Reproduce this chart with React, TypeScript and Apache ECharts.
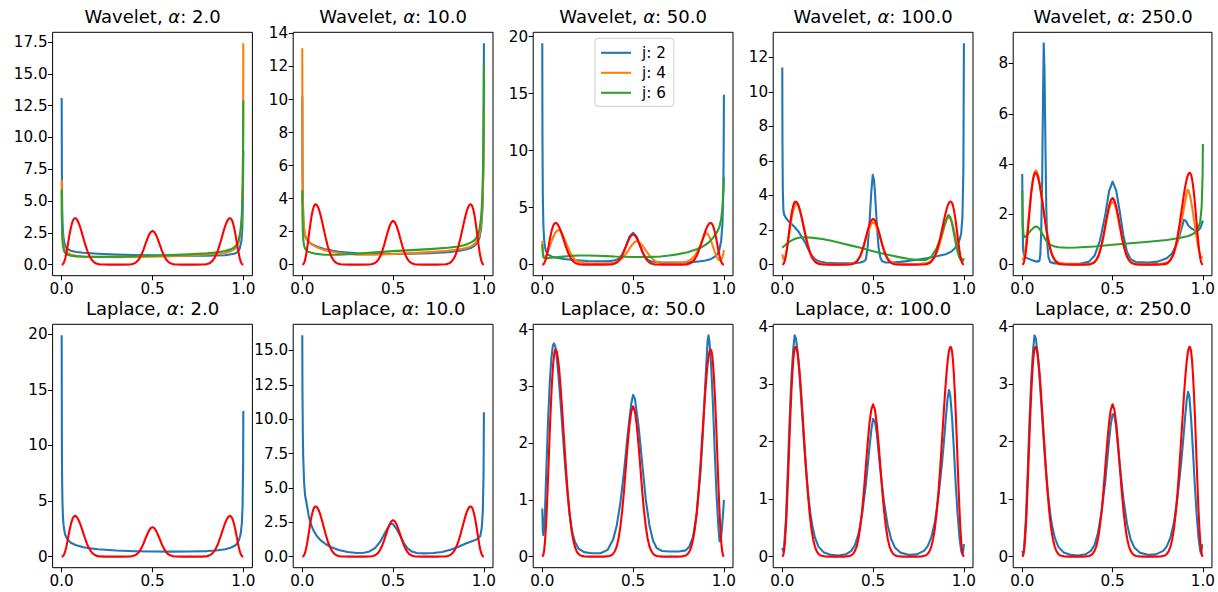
import React, { useEffect, useRef } from "react";
import * as echarts from "echarts";

type P = [number, number][];

// ---------- data ----------
const X_TICKS = [0, 0.5, 1.0];

const RED: P = [[0,0],[0.005,0.02],[0.01,0.1],[0.015,0.27],[0.02,0.52],[0.025,0.85],[0.03,1.24],[0.035,1.66],[0.04,2.1],[0.045,2.5],[0.05,2.86],[0.055,3.16],[0.06,3.4],[0.065,3.56],[0.07,3.64],[0.075,3.65],[0.08,3.61],[0.085,3.52],[0.09,3.39],[0.095,3.22],[0.1,3.02],[0.105,2.8],[0.11,2.56],[0.115,2.31],[0.12,2.06],[0.13,1.57],[0.14,1.13],[0.15,0.77],[0.16,0.49],[0.17,0.3],[0.18,0.17],[0.19,0.09],[0.2,0.045],[0.21,0.02],[0.23,0.005],[0.26,0],[0.34,0],[0.37,0.01],[0.38,0.023],[0.39,0.05],[0.4,0.1],[0.41,0.18],[0.42,0.32],[0.43,0.53],[0.44,0.81],[0.45,1.16],[0.46,1.57],[0.47,1.97],[0.48,2.32],[0.49,2.56],[0.5,2.65],[0.51,2.56],[0.52,2.32],[0.53,1.97],[0.54,1.57],[0.55,1.16],[0.56,0.81],[0.57,0.53],[0.58,0.32],[0.59,0.18],[0.6,0.1],[0.61,0.05],[0.62,0.023],[0.63,0.01],[0.66,0],[0.74,0],[0.77,0.005],[0.79,0.02],[0.8,0.045],[0.81,0.09],[0.82,0.17],[0.83,0.3],[0.84,0.49],[0.85,0.77],[0.86,1.13],[0.87,1.57],[0.88,2.06],[0.885,2.31],[0.89,2.56],[0.895,2.8],[0.9,3.02],[0.905,3.22],[0.91,3.39],[0.915,3.52],[0.92,3.61],[0.925,3.65],[0.93,3.64],[0.935,3.56],[0.94,3.4],[0.945,3.16],[0.95,2.86],[0.955,2.5],[0.96,2.1],[0.965,1.66],[0.97,1.24],[0.975,0.85],[0.98,0.52],[0.985,0.27],[0.99,0.1],[0.995,0.02],[1,0]];

// Wavelet, alpha 2.0
const W2_TICKS = [0, 2.5, 5, 7.5, 10, 12.5, 15, 17.5];
const W2_J2: P = [[0,13.1],[0.001,7.5],[0.003,4.2],[0.006,2.8],[0.01,2.1],[0.015,1.7],[0.02,1.45],[0.03,1.25],[0.05,1.1],[0.08,1.0],[0.12,0.93],[0.2,0.86],[0.3,0.8],[0.4,0.76],[0.5,0.73],[0.6,0.71],[0.7,0.7],[0.8,0.7],[0.9,0.74],[0.95,0.85],[0.97,1.0],[0.98,1.25],[0.99,1.9],[0.995,3.0],[0.998,5.5],[1,9]];
const W2_J4: P = [[0,6.7],[0.001,4.0],[0.003,2.6],[0.006,1.9],[0.01,1.5],[0.015,1.25],[0.02,1.1],[0.03,0.95],[0.05,0.8],[0.08,0.7],[0.12,0.64],[0.2,0.6],[0.3,0.58],[0.4,0.6],[0.5,0.63],[0.6,0.67],[0.7,0.72],[0.8,0.8],[0.86,0.86],[0.9,0.92],[0.93,1.05],[0.95,1.2],[0.965,1.45],[0.975,1.8],[0.985,2.5],[0.992,3.7],[0.997,6.5],[0.999,10.5],[1,17.4]];
const W2_J6: P = [[0,5.9],[0.001,3.6],[0.003,2.3],[0.006,1.6],[0.01,1.25],[0.015,1.0],[0.02,0.9],[0.03,0.8],[0.05,0.7],[0.08,0.65],[0.12,0.62],[0.2,0.61],[0.3,0.63],[0.4,0.66],[0.5,0.7],[0.6,0.75],[0.7,0.81],[0.8,0.9],[0.86,0.98],[0.9,1.07],[0.93,1.2],[0.95,1.35],[0.965,1.6],[0.975,1.95],[0.985,2.7],[0.992,3.9],[0.997,6.5],[0.999,9.5],[1,12.9]];

// Wavelet, alpha 10.0
const W10_TICKS = [0, 2, 4, 6, 8, 10, 12, 14];
const W10_J2: P = [[0,10.2],[0.001,6],[0.003,3.8],[0.006,2.7],[0.01,2.1],[0.015,1.8],[0.02,1.6],[0.03,1.45],[0.05,1.25],[0.08,1.1],[0.12,0.95],[0.2,0.78],[0.3,0.68],[0.4,0.65],[0.5,0.64],[0.6,0.66],[0.7,0.7],[0.8,0.76],[0.86,0.83],[0.9,0.92],[0.93,1.02],[0.95,1.15],[0.965,1.35],[0.975,1.6],[0.985,2.2],[0.992,3.4],[0.997,6],[0.999,9.5],[1,13.4]];
const W10_J4: P = [[0,13.1],[0.001,7],[0.003,4.2],[0.006,2.9],[0.01,2.2],[0.015,1.85],[0.02,1.65],[0.03,1.45],[0.05,1.25],[0.08,1.05],[0.12,0.88],[0.2,0.7],[0.3,0.6],[0.4,0.6],[0.5,0.64],[0.6,0.7],[0.7,0.76],[0.8,0.84],[0.86,0.92],[0.9,1.0],[0.93,1.12],[0.95,1.28],[0.965,1.5],[0.975,1.8],[0.985,2.5],[0.992,3.6],[0.997,5.6],[1,9.6]];
const W10_J6: P = [[0,4.5],[0.001,3.0],[0.003,2.0],[0.006,1.45],[0.01,1.15],[0.015,0.98],[0.02,0.9],[0.03,0.8],[0.05,0.72],[0.08,0.65],[0.12,0.6],[0.2,0.6],[0.3,0.66],[0.4,0.74],[0.5,0.82],[0.6,0.88],[0.7,0.94],[0.8,1.02],[0.86,1.1],[0.9,1.2],[0.93,1.35],[0.95,1.5],[0.965,1.75],[0.975,2.1],[0.985,2.9],[0.992,4.2],[0.997,7],[0.999,9.8],[1,12.1]];

// Wavelet, alpha 50.0
const W50_TICKS = [0, 5, 10, 15, 20];
const W50_J2: P = [[0,19.4],[0.001,11],[0.003,6],[0.006,3.5],[0.01,2.2],[0.015,1.55],[0.02,1.2],[0.03,0.9],[0.05,0.72],[0.08,0.6],[0.12,0.5],[0.16,0.43],[0.2,0.37],[0.25,0.32],[0.3,0.3],[0.35,0.3],[0.38,0.33],[0.4,0.38],[0.42,0.5],[0.44,0.88],[0.46,1.6],[0.48,2.45],[0.5,2.8],[0.52,2.45],[0.54,1.6],[0.56,0.85],[0.58,0.42],[0.6,0.28],[0.65,0.2],[0.7,0.18],[0.75,0.18],[0.8,0.2],[0.85,0.26],[0.9,0.36],[0.93,0.5],[0.95,0.7],[0.965,0.95],[0.975,1.3],[0.985,2.1],[0.992,3.6],[0.997,7],[0.999,11],[1,14.9]];
const W50_J4: P = [[0,2.1],[0.003,1.2],[0.006,0.75],[0.01,0.6],[0.02,0.75],[0.03,1.1],[0.04,1.55],[0.05,2.0],[0.06,2.4],[0.07,2.75],[0.08,2.95],[0.09,3.05],[0.1,2.95],[0.11,2.7],[0.12,2.35],[0.13,1.95],[0.14,1.55],[0.15,1.2],[0.16,0.88],[0.18,0.45],[0.2,0.24],[0.23,0.14],[0.27,0.1],[0.33,0.1],[0.38,0.15],[0.41,0.25],[0.44,0.55],[0.47,1.15],[0.49,1.65],[0.51,2.0],[0.52,2.05],[0.53,2.0],[0.55,1.7],[0.57,1.25],[0.59,0.8],[0.61,0.45],[0.63,0.25],[0.66,0.14],[0.7,0.12],[0.75,0.14],[0.79,0.22],[0.82,0.45],[0.84,0.8],[0.86,1.35],[0.87,1.7],[0.88,2.1],[0.89,2.5],[0.9,2.75],[0.91,2.7],[0.92,2.45],[0.93,2.05],[0.94,1.55],[0.95,1.1],[0.96,0.7],[0.97,0.42],[0.98,0.35],[0.99,0.55],[0.996,0.9],[1,1.3]];
const W50_J6: P = [[0,1.8],[0.003,1.0],[0.006,0.7],[0.01,0.58],[0.02,0.55],[0.05,0.6],[0.1,0.68],[0.15,0.76],[0.2,0.8],[0.25,0.8],[0.3,0.78],[0.35,0.75],[0.4,0.71],[0.5,0.67],[0.6,0.68],[0.65,0.72],[0.7,0.8],[0.75,0.92],[0.8,1.08],[0.85,1.35],[0.88,1.55],[0.9,1.75],[0.92,2.0],[0.94,2.35],[0.96,2.8],[0.975,3.3],[0.985,4.0],[0.992,5.0],[0.997,6.4],[1,7.7]];

// Wavelet, alpha 100.0
const W100_TICKS = [0, 2, 4, 6, 8, 10, 12];
const W100_J2: P = [[0,11.4],[0.001,7],[0.003,4.3],[0.006,3.2],[0.01,2.9],[0.02,2.7],[0.035,2.5],[0.05,2.37],[0.07,2.15],[0.09,1.9],[0.11,1.55],[0.125,1.3],[0.14,0.95],[0.16,0.58],[0.18,0.32],[0.2,0.19],[0.24,0.11],[0.3,0.08],[0.36,0.08],[0.4,0.09],[0.43,0.12],[0.45,0.2],[0.46,0.3],[0.47,1.0],[0.48,2.4],[0.49,4.2],[0.498,5.2],[0.505,4.9],[0.51,4.2],[0.52,2.4],[0.53,1.0],[0.54,0.4],[0.55,0.2],[0.57,0.12],[0.6,0.12],[0.65,0.16],[0.7,0.22],[0.75,0.3],[0.8,0.38],[0.85,0.48],[0.9,0.6],[0.93,0.75],[0.95,0.95],[0.965,1.15],[0.975,1.4],[0.985,1.8],[0.992,2.8],[0.997,5.5],[1,12.8]];
const W100_J4: P = [[0,0.6],[0.005,0.35],[0.01,0.3],[0.015,0.4],[0.02,0.6],[0.03,1.2],[0.04,1.95],[0.05,2.6],[0.06,3.1],[0.07,3.45],[0.08,3.55],[0.09,3.4],[0.1,3.05],[0.11,2.6],[0.12,2.1],[0.13,1.62],[0.14,1.18],[0.15,0.82],[0.16,0.54],[0.17,0.34],[0.18,0.21],[0.2,0.08],[0.23,0.03],[0.3,0.01],[0.36,0.02],[0.39,0.07],[0.41,0.2],[0.43,0.5],[0.45,1.1],[0.47,1.85],[0.49,2.35],[0.5,2.45],[0.51,2.38],[0.53,1.9],[0.55,1.15],[0.57,0.55],[0.59,0.22],[0.61,0.08],[0.64,0.03],[0.7,0.02],[0.76,0.04],[0.8,0.1],[0.82,0.22],[0.84,0.45],[0.86,0.95],[0.88,1.7],[0.89,2.1],[0.9,2.45],[0.91,2.68],[0.92,2.72],[0.93,2.6],[0.94,2.25],[0.95,1.8],[0.96,1.3],[0.97,0.85],[0.98,0.45],[0.99,0.25],[1,0.35]];
const W100_J6: P = [[0,0.98],[0.02,1.17],[0.04,1.33],[0.06,1.45],[0.08,1.53],[0.1,1.57],[0.13,1.58],[0.17,1.55],[0.22,1.48],[0.27,1.38],[0.32,1.25],[0.38,1.1],[0.43,0.98],[0.47,0.86],[0.5,0.78],[0.55,0.65],[0.6,0.53],[0.65,0.42],[0.7,0.33],[0.75,0.27],[0.79,0.27],[0.82,0.45],[0.85,0.95],[0.87,1.5],[0.89,2.2],[0.905,2.7],[0.915,2.88],[0.925,2.75],[0.935,2.35],[0.945,1.8],[0.955,1.25],[0.965,0.75],[0.975,0.4],[0.985,0.22],[0.993,0.2],[1,0.35]];

// Wavelet, alpha 250.0
const W250_TICKS = [0, 2, 4, 6, 8];
const W250_J2: P = [[0,3.6],[0.002,1.5],[0.005,0.6],[0.01,0.35],[0.02,0.28],[0.04,0.22],[0.06,0.16],[0.08,0.12],[0.095,0.15],[0.1,0.4],[0.105,1.3],[0.11,3.2],[0.115,6.6],[0.119,8.8],[0.123,7.8],[0.128,5.0],[0.133,2.3],[0.138,0.9],[0.145,0.3],[0.155,0.1],[0.18,0.05],[0.25,0.03],[0.32,0.03],[0.37,0.12],[0.4,0.35],[0.43,0.95],[0.46,2.0],[0.48,2.9],[0.5,3.3],[0.52,2.95],[0.54,2.1],[0.56,1.15],[0.58,0.5],[0.6,0.22],[0.63,0.1],[0.7,0.08],[0.75,0.12],[0.8,0.25],[0.83,0.45],[0.86,0.9],[0.88,1.4],[0.895,1.78],[0.905,1.75],[0.92,1.55],[0.94,1.42],[0.96,1.35],[0.975,1.36],[0.985,1.45],[0.993,1.6],[1,1.75]];
const W250_J4: P = [[0,0.25],[0.005,0.2],[0.01,0.3],[0.02,0.75],[0.03,1.45],[0.04,2.2],[0.05,2.9],[0.06,3.4],[0.07,3.7],[0.075,3.75],[0.08,3.72],[0.09,3.5],[0.1,3.1],[0.11,2.6],[0.12,2.1],[0.13,1.6],[0.14,1.15],[0.15,0.8],[0.16,0.52],[0.17,0.33],[0.18,0.2],[0.2,0.08],[0.23,0.03],[0.3,0.01],[0.37,0.02],[0.4,0.1],[0.42,0.32],[0.44,0.78],[0.46,1.5],[0.48,2.2],[0.49,2.42],[0.5,2.5],[0.51,2.42],[0.52,2.2],[0.54,1.5],[0.56,0.78],[0.58,0.32],[0.6,0.1],[0.63,0.02],[0.7,0.01],[0.77,0.03],[0.8,0.08],[0.82,0.2],[0.84,0.45],[0.86,0.95],[0.88,1.65],[0.89,2.05],[0.9,2.45],[0.91,2.85],[0.915,2.98],[0.92,2.95],[0.93,2.7],[0.94,2.3],[0.95,1.8],[0.96,1.3],[0.97,0.85],[0.98,0.5],[0.99,0.28],[1,0.3]];
const W250_J6: P = [[0,2.95],[0.003,1.6],[0.007,1.2],[0.012,1.1],[0.02,1.12],[0.035,1.25],[0.05,1.38],[0.065,1.48],[0.075,1.52],[0.085,1.5],[0.1,1.38],[0.115,1.18],[0.13,0.98],[0.145,0.85],[0.16,0.77],[0.18,0.72],[0.2,0.69],[0.25,0.67],[0.3,0.68],[0.4,0.72],[0.5,0.79],[0.6,0.85],[0.7,0.91],[0.8,0.98],[0.87,1.06],[0.92,1.14],[0.95,1.24],[0.97,1.38],[0.985,1.7],[0.993,2.3],[0.998,3.5],[1,4.8]];

// Laplace panels (blue = fitted density)
const L2_TICKS = [0, 5, 10, 15, 20];
const L2_FIT: P = [[0,19.9],[0.001,11],[0.002,7.5],[0.004,5],[0.007,3.6],[0.01,2.9],[0.015,2.3],[0.02,1.95],[0.03,1.6],[0.05,1.25],[0.08,1.02],[0.12,0.85],[0.16,0.74],[0.2,0.66],[0.3,0.55],[0.4,0.49],[0.5,0.46],[0.6,0.45],[0.7,0.46],[0.8,0.5],[0.85,0.55],[0.9,0.66],[0.93,0.8],[0.95,0.95],[0.965,1.15],[0.975,1.45],[0.985,2.0],[0.992,3.0],[0.996,4.6],[0.999,8.5],[1,13.1]];
const L10_TICKS = [0, 2.5, 5, 7.5, 10, 12.5, 15];
const L10_FIT: P = [[0,16.1],[0.001,12],[0.003,9],[0.005,7.3],[0.01,5.4],[0.015,4.5],[0.024,3.85],[0.035,3.0],[0.045,2.45],[0.06,1.95],[0.08,1.5],[0.1,1.2],[0.13,0.9],[0.16,0.68],[0.2,0.48],[0.25,0.34],[0.3,0.27],[0.34,0.28],[0.37,0.38],[0.4,0.62],[0.43,1.1],[0.46,1.85],[0.48,2.3],[0.49,2.4],[0.5,2.35],[0.52,2.0],[0.54,1.5],[0.56,0.97],[0.58,0.6],[0.6,0.4],[0.63,0.27],[0.67,0.24],[0.72,0.26],[0.77,0.34],[0.82,0.52],[0.86,0.72],[0.9,0.95],[0.93,1.1],[0.955,1.22],[0.97,1.35],[0.98,1.5],[0.988,2.1],[0.994,3.3],[0.998,6],[1,10.5]];
const L50_TICKS = [0, 1, 2, 3, 4];
const L50_FIT: P = [[0,0.85],[0.003,0.45],[0.006,0.38],[0.01,0.5],[0.015,0.8],[0.02,1.3],[0.03,2.25],[0.04,3.0],[0.05,3.5],[0.058,3.72],[0.065,3.76],[0.072,3.7],[0.08,3.5],[0.09,3.15],[0.1,2.75],[0.11,2.3],[0.12,1.85],[0.13,1.43],[0.14,1.06],[0.15,0.76],[0.16,0.53],[0.17,0.37],[0.18,0.26],[0.2,0.14],[0.23,0.08],[0.27,0.06],[0.32,0.06],[0.36,0.12],[0.39,0.3],[0.41,0.55],[0.43,0.95],[0.45,1.5],[0.47,2.15],[0.49,2.7],[0.5,2.85],[0.51,2.78],[0.53,2.3],[0.55,1.65],[0.57,1.0],[0.59,0.55],[0.61,0.28],[0.63,0.15],[0.66,0.1],[0.7,0.09],[0.75,0.09],[0.79,0.11],[0.81,0.18],[0.83,0.35],[0.85,0.75],[0.87,1.45],[0.88,1.95],[0.89,2.55],[0.9,3.2],[0.91,3.8],[0.915,3.9],[0.92,3.8],[0.93,3.35],[0.94,2.65],[0.95,1.8],[0.96,1.05],[0.97,0.5],[0.976,0.27],[0.982,0.3],[0.988,0.45],[0.995,0.75],[1,1.0]];
const L100_TICKS = [0, 1, 2, 3, 4];
const L100_FIT: P = [[0,0.15],[0.005,0.1],[0.01,0.18],[0.02,0.65],[0.03,1.45],[0.04,2.35],[0.05,3.1],[0.06,3.6],[0.068,3.85],[0.075,3.8],[0.085,3.55],[0.095,3.15],[0.105,2.68],[0.115,2.2],[0.125,1.75],[0.135,1.35],[0.145,1.02],[0.155,0.75],[0.165,0.54],[0.18,0.33],[0.2,0.17],[0.23,0.07],[0.27,0.03],[0.31,0.02],[0.35,0.04],[0.38,0.1],[0.4,0.2],[0.42,0.4],[0.44,0.75],[0.46,1.25],[0.48,1.9],[0.49,2.2],[0.5,2.4],[0.51,2.35],[0.52,2.15],[0.54,1.5],[0.56,0.95],[0.58,0.55],[0.6,0.3],[0.62,0.16],[0.65,0.07],[0.7,0.03],[0.74,0.04],[0.78,0.1],[0.8,0.18],[0.82,0.33],[0.84,0.6],[0.86,1.05],[0.88,1.65],[0.89,2.0],[0.9,2.4],[0.91,2.75],[0.918,2.9],[0.925,2.8],[0.935,2.4],[0.945,1.85],[0.955,1.25],[0.965,0.75],[0.975,0.35],[0.985,0.1],[0.99,0.05],[0.996,0.1],[1,0.22]];
const L250_TICKS = [0, 1, 2, 3, 4];
const L250_FIT: P = [[0,0.1],[0.005,0.05],[0.01,0.15],[0.02,0.65],[0.03,1.45],[0.04,2.35],[0.05,3.1],[0.06,3.6],[0.068,3.85],[0.075,3.8],[0.085,3.55],[0.095,3.15],[0.105,2.68],[0.115,2.2],[0.125,1.75],[0.135,1.35],[0.145,1.02],[0.155,0.75],[0.165,0.54],[0.18,0.33],[0.2,0.17],[0.23,0.07],[0.27,0.03],[0.31,0.02],[0.35,0.04],[0.38,0.1],[0.4,0.2],[0.42,0.42],[0.44,0.8],[0.46,1.32],[0.48,2.0],[0.49,2.3],[0.5,2.48],[0.51,2.45],[0.52,2.25],[0.54,1.58],[0.56,1.0],[0.58,0.57],[0.6,0.3],[0.62,0.16],[0.65,0.07],[0.7,0.03],[0.74,0.04],[0.78,0.1],[0.8,0.18],[0.82,0.33],[0.84,0.6],[0.86,1.05],[0.88,1.65],[0.89,2.0],[0.9,2.38],[0.91,2.72],[0.918,2.87],[0.925,2.78],[0.935,2.38],[0.945,1.83],[0.955,1.25],[0.965,0.75],[0.975,0.35],[0.985,0.1],[0.99,0.05],[0.996,0.2],[1,0.2]];

const J_NAMES = ["j: 2", "j: 4", "j: 6"];
const COLORS = ["#1f77b4", "#ff7f0e", "#2ca02c"];
const RED_COLOR = "#ff0000";

const PANELS = [
  { kind: "Wavelet", alpha: "2.0", curves: [W2_J2, W2_J4, W2_J6], ticks: W2_TICKS, dec: 1 },
  { kind: "Wavelet", alpha: "10.0", curves: [W10_J2, W10_J4, W10_J6], ticks: W10_TICKS, dec: 0 },
  { kind: "Wavelet", alpha: "50.0", curves: [W50_J2, W50_J4, W50_J6], ticks: W50_TICKS, dec: 0 },
  { kind: "Wavelet", alpha: "100.0", curves: [W100_J2, W100_J4, W100_J6], ticks: W100_TICKS, dec: 0 },
  { kind: "Wavelet", alpha: "250.0", curves: [W250_J2, W250_J4, W250_J6], ticks: W250_TICKS, dec: 0 },
  { kind: "Laplace", alpha: "2.0", curves: [L2_FIT], ticks: L2_TICKS, dec: 0 },
  { kind: "Laplace", alpha: "10.0", curves: [L10_FIT], ticks: L10_TICKS, dec: 1 },
  { kind: "Laplace", alpha: "50.0", curves: [L50_FIT], ticks: L50_TICKS, dec: 0 },
  { kind: "Laplace", alpha: "100.0", curves: [L100_FIT], ticks: L100_TICKS, dec: 0 },
  { kind: "Laplace", alpha: "250.0", curves: [L250_FIT], ticks: L250_TICKS, dec: 0 },
];

// ---------- layout ----------
const COL_LEFT = [52.6, 293.2, 533.2, 773.2, 1013.2];
const PLOT_W = 199.8;
const ROW_TOP = [32.3, 324.3];
const PLOT_H = 243.4;
const FONT = "'DejaVu Sans', sans-serif";
const TICK_FS = 15.2;
const TITLE_FS = 18;

function buildOption() {
  const grid: any[] = [];
  const xAxis: any[] = [];
  const yAxis: any[] = [];
  const series: any[] = [];
  const graphic: any[] = [];

  PANELS.forEach((p, i) => {
    const row = i < 5 ? 0 : 1;
    const col = i % 5;
    const left = COL_LEFT[col];
    const top = ROW_TOP[row];
    grid.push({
      left, top, width: PLOT_W, height: PLOT_H,
      show: true, borderColor: "#000", borderWidth: 1, backgroundColor: "#fff",
      containLabel: false,
    });
    let ymax = 0;
    p.curves.concat([RED]).forEach((c) => c.forEach((pt) => { if (pt[1] > ymax) ymax = pt[1]; }));
    xAxis.push({
      type: "value", gridIndex: i, min: -0.05, max: 1.05,
      axisLine: { show: false, onZero: false },
      splitLine: { show: false },
      axisTick: { show: true, inside: false, length: 4.5, customValues: X_TICKS, lineStyle: { color: "#000", width: 1 } },
      axisLabel: { show: true, customValues: X_TICKS, formatter: (v: number) => v.toFixed(1), color: "#000", fontSize: TICK_FS, fontFamily: FONT, margin: 6 },
    });
    yAxis.push({
      type: "value", gridIndex: i, min: -0.05 * ymax, max: 1.05 * ymax,
      axisLine: { show: false, onZero: false },
      splitLine: { show: false },
      axisTick: { show: true, inside: false, length: 4.5, customValues: p.ticks, lineStyle: { color: "#000", width: 1 } },
      axisLabel: { show: true, customValues: p.ticks, formatter: (v: number) => v.toFixed(p.dec), color: "#000", fontSize: TICK_FS, fontFamily: FONT, margin: 5 },
    });
    p.curves.forEach((c, k) => {
      series.push({
        type: "line", name: p.kind === "Wavelet" ? J_NAMES[k] : "fit",
        xAxisIndex: i, yAxisIndex: i, data: c,
        symbol: "none", showSymbol: false, silent: true,
        lineStyle: { color: COLORS[k], width: 2.1, join: "round" },
        itemStyle: { color: COLORS[k] },
        z: 2 + k,
      });
    });
    series.push({
      type: "line", name: "target", xAxisIndex: i, yAxisIndex: i, data: RED,
      symbol: "none", showSymbol: false, silent: true,
      lineStyle: { color: RED_COLOR, width: 2.1, join: "round" },
      itemStyle: { color: RED_COLOR },
      z: 6,
    });
    graphic.push({
      type: "text",
      x: left + PLOT_W / 2,
      y: row === 0 ? 16 : 308.7,
      style: {
        text: p.kind + ", {a|α}: " + p.alpha,
        fill: "#000",
        fontSize: TITLE_FS,
        fontFamily: FONT,
        align: "center",
        verticalAlign: "middle",
        rich: { a: { fontStyle: "italic", fontSize: TITLE_FS, fontFamily: FONT, fill: "#000" } },
      },
    });
  });

  return {
    animation: false,
    backgroundColor: "#fff",
    grid, xAxis, yAxis, series, graphic,
    legend: {
      data: J_NAMES,
      orient: "vertical",
      left: 595, top: 38.3,
      padding: [7, 8, 6, 5],
      itemGap: 5,
      itemWidth: 30, itemHeight: 14,
      selectedMode: false,
      itemStyle: { opacity: 0 },
      lineStyle: { width: 2.1 },
      backgroundColor: "rgba(255,255,255,0.8)",
      borderColor: "#cccccc", borderWidth: 1, borderRadius: 3,
      textStyle: { fontSize: TICK_FS, fontFamily: FONT, color: "#000", padding: [0, 0, 0, 6] },
    },
  };
}

export default function App() {
  const ref = useRef<HTMLDivElement>(null);
  useEffect(() => {
    document.body.style.margin = "0";
    if (!ref.current) return;
    const chart = echarts.init(ref.current, undefined, { renderer: "svg" });
    chart.setOption(buildOption() as any);
    return () => chart.dispose();
  }, []);
  return <div ref={ref} style={{ width: 1218, height: 592, position: "absolute", left: 0, top: 0 }} />;
}
